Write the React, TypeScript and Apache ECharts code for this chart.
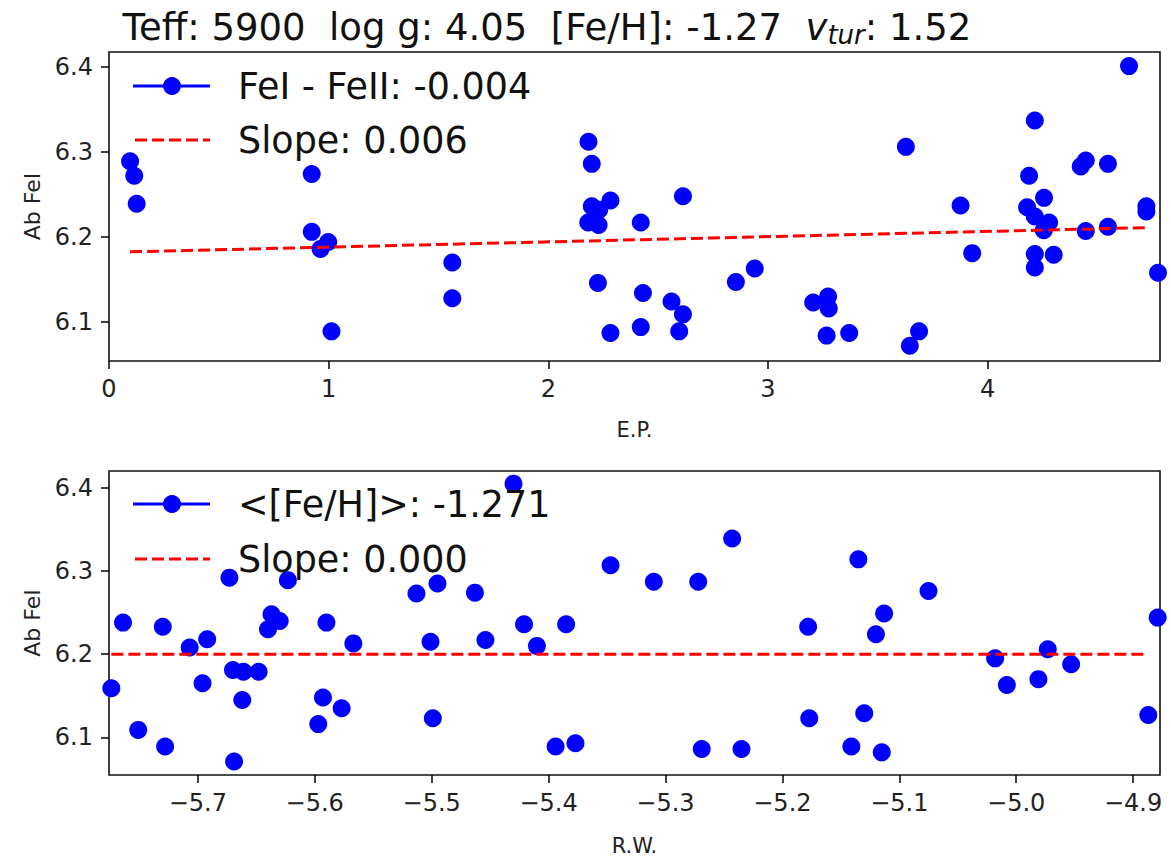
import React, { useEffect, useRef } from 'react';
import * as echarts from 'echarts';

const FONT = 'DejaVu Sans';

// Ab FeI vs excitation potential (E.P.)
const epPoints: [number, number][] = [
  [0.096, 6.289], [0.115, 6.272], [0.126, 6.239], [0.923, 6.274], [0.923, 6.206],
  [0.998, 6.194], [0.963, 6.186], [1.013, 6.089], [1.563, 6.170], [1.563, 6.128],
  [2.183, 6.312], [2.198, 6.286], [2.283, 6.243], [2.198, 6.236], [2.232, 6.232],
  [2.182, 6.217], [2.229, 6.214], [2.421, 6.217], [2.613, 6.248], [2.226, 6.146],
  [2.431, 6.134], [2.561, 6.124], [2.613, 6.109], [2.283, 6.087], [2.421, 6.094],
  [2.596, 6.089], [2.854, 6.147], [2.940, 6.163], [4.644, 6.401], [4.215, 6.337],
  [3.628, 6.306], [4.424, 6.283], [4.447, 6.290], [4.548, 6.286], [4.189, 6.272],
  [4.257, 6.246], [3.877, 6.237], [4.180, 6.235], [4.215, 6.224], [4.280, 6.217],
  [4.256, 6.208], [4.447, 6.207], [4.548, 6.212], [4.723, 6.236], [4.723, 6.230],
  [3.930, 6.181], [4.215, 6.180], [4.301, 6.179], [4.215, 6.164], [4.776, 6.158],
  [3.274, 6.130], [3.206, 6.123], [3.277, 6.116], [3.267, 6.084], [3.370, 6.087],
  [3.688, 6.089], [3.646, 6.072],
];

// Ab FeI vs reduced width (R.W.)
const rwPoints: [number, number][] = [
  [-5.774, 6.159], [-5.764, 6.238], [-5.751, 6.109], [-5.730, 6.233], [-5.728, 6.089],
  [-5.707, 6.208], [-5.692, 6.218], [-5.696, 6.165], [-5.673, 6.292], [-5.670, 6.181],
  [-5.661, 6.179], [-5.648, 6.179], [-5.662, 6.145], [-5.669, 6.071], [-5.623, 6.289],
  [-5.637, 6.248], [-5.630, 6.240], [-5.640, 6.230], [-5.590, 6.238], [-5.567, 6.213],
  [-5.593, 6.148], [-5.577, 6.135], [-5.597, 6.116], [-5.513, 6.273], [-5.495, 6.285],
  [-5.501, 6.215], [-5.499, 6.123], [-5.430, 6.405], [-5.463, 6.274], [-5.421, 6.236],
  [-5.454, 6.217], [-5.410, 6.210], [-5.385, 6.236], [-5.394, 6.089], [-5.377, 6.093],
  [-5.347, 6.307], [-5.310, 6.287], [-5.272, 6.287], [-5.243, 6.339], [-5.269, 6.086],
  [-5.235, 6.086], [-5.135, 6.314], [-5.075, 6.276], [-5.113, 6.249], [-5.178, 6.233],
  [-5.120, 6.224], [-5.177, 6.123], [-5.130, 6.129], [-5.141, 6.089], [-5.115, 6.082],
  [-5.018, 6.195], [-5.008, 6.163], [-4.981, 6.170], [-4.973, 6.206], [-4.953, 6.188],
  [-4.879, 6.244], [-4.887, 6.127],
];

const epFit: [number, number][] = [[0.096, 6.1825], [4.723, 6.211]];
const rwFit: [number, number][] = [[-5.774, 6.2], [-4.887, 6.2]];

const epTicks = [0, 1, 2, 3, 4];
const rwTicks = [-5.7, -5.6, -5.5, -5.4, -5.3, -5.2, -5.1, -5.0, -4.9];
const abTicks = [6.1, 6.2, 6.3, 6.4];

const titleMain = 'Teff: 5900  log g: 4.05  [Fe/H]: -1.27  ';
const titleVtur = ': 1.52';
const legendTop = ['FeI - FeII: -0.004', 'Slope: 0.006'];
const legendBottom = ['<[Fe/H]>: -1.271', 'Slope: 0.000'];

const BLUE = '#0000ff';
const RED = '#ff0000';
const DASH = [12, 5];

function fmtMinus(v: number, d: number) {
  const s = Math.abs(v).toFixed(d);
  return v < 0 ? '\u2212' + s : s;
}

function axisBase() {
  return {
    type: 'value' as const,
    axisLine: { show: false },
    splitLine: { show: false },
    nameLocation: 'middle' as const,
    nameTextStyle: { fontFamily: FONT, fontSize: 21, color: '#222' },
  };
}

function legendBlock(y1: number, y2: number, texts: string[]) {
  return [
    { type: 'line', shape: { x1: 133, y1, x2: 210, y2: y1 }, style: { stroke: BLUE, lineWidth: 2.8 }, z: 10 },
    { type: 'circle', shape: { cx: 172, cy: y1, r: 9 }, style: { fill: BLUE }, z: 10 },
    { type: 'text', x: 238, y: y1, style: { text: texts[0], fontFamily: FONT, fontSize: 36.5, fill: '#111', verticalAlign: 'middle', align: 'left' }, z: 10 },
    { type: 'line', shape: { x1: 135, y1: y2, x2: 210, y2 }, style: { stroke: RED, lineWidth: 3, lineDash: DASH }, z: 10 },
    { type: 'text', x: 238, y: y2, style: { text: texts[1], fontFamily: FONT, fontSize: 36.5, fill: '#111', verticalAlign: 'middle', align: 'left' }, z: 10 },
  ];
}

export default function App() {
  const ref = useRef<HTMLDivElement>(null);
  useEffect(() => {
    if (!ref.current) return;
    const chart = echarts.init(ref.current, undefined, { renderer: 'svg' });
    const tick = { show: true, length: 8, lineStyle: { color: '#000', width: 1.5 } };
    const label = { fontFamily: FONT, fontSize: 24, color: '#222' };
    chart.setOption({
      animation: false,
      backgroundColor: '#fff',
      grid: [
        { left: 109, top: 52, width: 1051, height: 309, show: true, borderColor: '#111', borderWidth: 1.6, backgroundColor: 'transparent' },
        { left: 109, top: 471, width: 1051, height: 307, show: true, borderColor: '#111', borderWidth: 1.6, backgroundColor: 'transparent' },
      ],
      xAxis: [
        {
          ...axisBase(), gridIndex: 0, min: 0, max: 4.785, name: 'E.P.', nameGap: 58,
          axisTick: { ...tick, customValues: epTicks },
          axisLabel: { ...label, margin: 16, customValues: epTicks, formatter: (v: number) => String(v) },
        },
        {
          ...axisBase(), gridIndex: 1, min: -5.776, max: -4.877, name: 'R.W.', nameGap: 60,
          axisTick: { ...tick, customValues: rwTicks },
          axisLabel: { ...label, margin: 16, customValues: rwTicks, formatter: (v: number) => fmtMinus(v, 1) },
        },
      ],
      yAxis: [
        {
          ...axisBase(), gridIndex: 0, min: 6.0541, max: 6.4176, name: 'Ab FeI', nameGap: 56, nameRotate: 90,
          nameTextStyle: { fontFamily: FONT, fontSize: 22, color: '#222' },
          axisTick: { ...tick, customValues: abTicks },
          axisLabel: { ...label, margin: 16, customValues: abTicks, formatter: (v: number) => v.toFixed(1) },
        },
        {
          ...axisBase(), gridIndex: 1, min: 6.0548, max: 6.4202, name: 'Ab FeI', nameGap: 56, nameRotate: 90,
          nameTextStyle: { fontFamily: FONT, fontSize: 22, color: '#222' },
          axisTick: { ...tick, customValues: abTicks },
          axisLabel: { ...label, margin: 16, customValues: abTicks, formatter: (v: number) => v.toFixed(1) },
        },
      ],
      series: [
        { type: 'scatter', xAxisIndex: 0, yAxisIndex: 0, data: epPoints, symbolSize: 18, itemStyle: { color: BLUE, opacity: 1 }, z: 2 },
        { type: 'line', xAxisIndex: 0, yAxisIndex: 0, data: epFit, showSymbol: false, symbol: 'none', lineStyle: { color: RED, width: 3, type: DASH }, z: 3 },
        { type: 'scatter', xAxisIndex: 1, yAxisIndex: 1, data: rwPoints, symbolSize: 18, itemStyle: { color: BLUE, opacity: 1 }, z: 2 },
        { type: 'line', xAxisIndex: 1, yAxisIndex: 1, data: rwFit, showSymbol: false, symbol: 'none', lineStyle: { color: RED, width: 3, type: DASH }, z: 3 },
      ],
      graphic: [
        {
          type: 'text', x: 547, y: 27, z: 10,
          style: {
            text: `{n|${titleMain}}{v|v}{s|tur}{n|${titleVtur}}`,
            align: 'center', verticalAlign: 'middle', fill: '#111',
            rich: {
              n: { fontFamily: FONT, fontSize: 37, lineHeight: 41, fill: '#111', color: '#111' },
              v: { fontFamily: FONT, fontSize: 37, fontStyle: 'italic', lineHeight: 41, fill: '#111', color: '#111' },
              s: { fontFamily: FONT, fontSize: 26, fontStyle: 'italic', lineHeight: 27, verticalAlign: 'bottom', fill: '#111', color: '#111' },
            },
          },
        },
        ...legendBlock(86, 140, legendTop),
        ...legendBlock(504, 559, legendBottom),
      ],
    });
    return () => chart.dispose();
  }, []);
  return <div ref={ref} style={{ position: 'fixed', left: 0, top: 0, width: 1171, height: 857 }} />;
}
